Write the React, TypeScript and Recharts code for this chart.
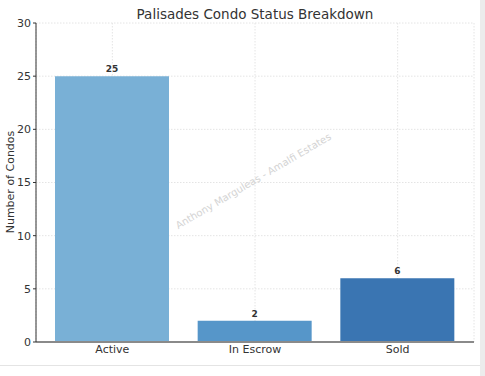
import React from "react";
import { BarChart, Bar, XAxis, YAxis, CartesianGrid, LabelList, Cell, Label } from "recharts";

const categories = ["Active", "In Escrow", "Sold"];
const counts = [25, 2, 6];
const barColors = ["#79b0d6", "#5696c9", "#3a75b2"];
const yTicks = [0, 5, 10, 15, 20, 25, 30];

const data = categories.map((c, i) => ({ name: c, value: counts[i] }));

const FONT = "'DejaVu Sans', sans-serif";

export default function App() {
  return (
    <div style={{ position: "absolute", left: 0, top: 0, width: 485, height: 376, background: "#fff", fontFamily: FONT }}>
      <BarChart
        width={478}
        height={364}
        data={data}
        margin={{ top: 23, right: 4, left: 0, bottom: 0 }}
        barSize={114}
      >
        <text x={255} y={19} textAnchor="middle" fontSize={13.5} fill="#333" fontFamily={FONT}>
          Palisades Condo Status Breakdown
        </text>
        <text
          x={0}
          y={0}
          transform="translate(255,184) rotate(-30.5)"
          textAnchor="middle"
          fontSize={10}
          fill="#d4d4d4"
          fontFamily={FONT}
        >
          Anthony Marguleas - Amalfi Estates
        </text>
        <CartesianGrid stroke="#e4e4e4" strokeDasharray="1.5 1.5" vertical={true} />
        <XAxis
          dataKey="name"
          height={22}
          padding={{ left: 5, right: 5 }}
          axisLine={{ stroke: "#8a8a8a", strokeWidth: 2 }}
          tickLine={false}
          tickSize={2}
          tick={{ fontSize: 11, fill: "#333", fontFamily: FONT }}
          tickMargin={1}
        />
        <YAxis
          width={36}
          domain={[0, 30]}
          ticks={yTicks}
          axisLine={{ stroke: "#333", strokeWidth: 1 }}
          tickLine={{ stroke: "#333" }}
          tickSize={3}
          tick={{ fontSize: 11, fill: "#333", fontFamily: FONT }}
          interval={0}
        >
          <Label
            content={() => (
              <text
                x={0}
                y={0}
                transform="translate(14,182) rotate(-90)"
                textAnchor="middle"
                fontSize={11}
                fill="#333"
                fontFamily={FONT}
              >
                Number of Condos
              </text>
            )}
          />
        </YAxis>
        <Bar dataKey="value" isAnimationActive={false}>
          {data.map((d, i) => (
            <Cell key={d.name} fill={barColors[i]} />
          ))}
          <LabelList
            dataKey="value"
            position="top"
            offset={4}
            style={{ fontSize: 9, fontWeight: "bold", fill: "#333", fontFamily: FONT }}
          />
        </Bar>
      </BarChart>
      <div style={{ position: "absolute", left: 0, top: 365, width: 485, height: 1, background: "#e4e4e4" }} />
      <div style={{ position: "absolute", left: 480, top: 0, width: 5, height: 376, background: "#ececec" }} />
    </div>
  );
}
